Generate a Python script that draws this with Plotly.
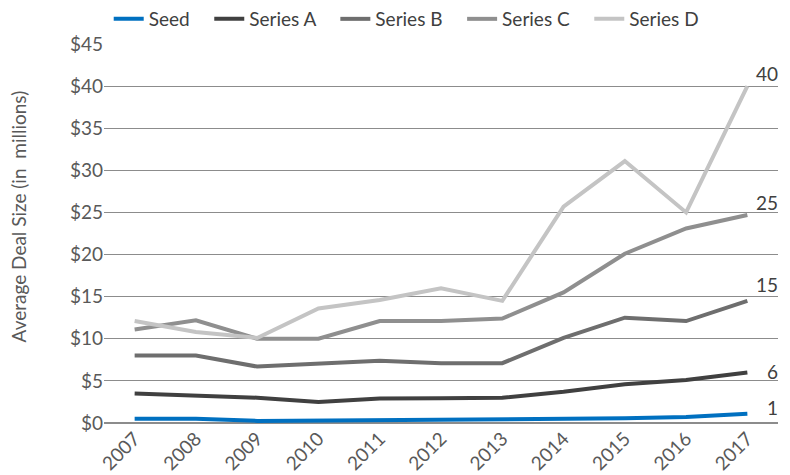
import plotly.graph_objects as go

years = ["2007", "2008", "2009", "2010", "2011", "2012", "2013", "2014", "2015", "2016", "2017"]
seed = [0.5, 0.5, 0.25, 0.3, 0.35, 0.35, 0.35, 0.45, 0.55, 0.7, 1.1]
series_a = [3.5, 3.2, 3.0, 2.5, 2.9, 2.95, 3.0, 3.7, 4.6, 5.1, 6.0]
series_b = [8.0, 8.0, 6.7, 7.0, 7.4, 7.1, 7.1, 10.1, 12.5, 12.1, 14.5]
series_c = [11.1, 12.2, 10.0, 10.0, 12.1, 12.1, 12.4, 15.5, 20.1, 23.1, 24.7]
series_d = [12.1, 10.8, 10.1, 13.6, 14.6, 16.0, 14.5, 25.7, 31.1, 25.0, 40.0]
series_names = ["Seed", "Series A", "Series B", "Series C", "Series D"]
end_labels = ["1", "6", "15", "25", "40"]
y_ticks = [0, 5, 10, 15, 20, 25, 30, 35, 40, 45]
y_ticklabels = ["$0", "$5", "$10", "$15", "$20", "$25", "$30", "$35", "$40", "$45"]
y_title = "Average Deal Size (in  millions)"

colors = ["#0070C0", "#404040", "#6E6E6E", "#8F8F8F", "#C4C4C4"]
all_series = [seed, series_a, series_b, series_c, series_d]
label_shift = [6, 1, 16, 12, 13]

font_family = "Lato, Carlito, Open Sans, sans-serif"
FS = 19

fig = go.Figure()
for name, vals, col in zip(series_names, all_series, colors):
    fig.add_trace(go.Scatter(x=list(range(len(years))), y=vals, mode="lines",
                             name=name + "&nbsp;&nbsp;&nbsp;",
                             line=dict(color=col, width=4)))

last = len(years) - 1
for vals, lab, ys in zip(all_series, end_labels, label_shift):
    fig.add_annotation(x=last, y=vals[-1], xref="x", yref="y", text=lab,
                       showarrow=False, xanchor="right", yanchor="middle",
                       xshift=33, yshift=ys,
                       font=dict(size=FS, color="#404040", family=font_family))

fig.add_annotation(xref="paper", yref="paper", x=0, y=0.545, text=y_title,
                   textangle=-90, showarrow=False, xanchor="center", yanchor="middle",
                   xshift=-86, font=dict(size=FS, color="#595959", family=font_family))

fig.update_layout(
    width=790, height=475,
    margin=dict(l=104, r=12, t=44, b=52),
    plot_bgcolor="white", paper_bgcolor="white",
    font=dict(family=font_family, size=FS, color="#595959"),
    legend=dict(orientation="h", xref="paper", x=0.007, xanchor="left",
                yref="container", y=1.0, yanchor="top",
                font=dict(size=FS, color="#404040"), itemwidth=30,
                bgcolor="rgba(0,0,0,0)"),
    showlegend=True,
)
fig.update_xaxes(range=[-0.5, 10.5], tickvals=list(range(len(years))), ticktext=years,
                 tickangle=-45, showgrid=False, showline=False, zeroline=False, ticks="",
                 tickfont=dict(size=FS, color="#595959"), automargin=False)
fig.update_yaxes(range=[0, 45], tickvals=y_ticks, ticktext=y_ticklabels,
                 showgrid=True, gridcolor="#8C8C8C", gridwidth=1,
                 zeroline=True, zerolinecolor="#8C8C8C", zerolinewidth=2,
                 showline=False, ticks="", ticklen=0,
                 tickfont=dict(size=FS, color="#595959"),
                 automargin=False)

fig.write_html("out.html", config={"displayModeBar": False},
               post_script="document.body.style.margin='0';")
